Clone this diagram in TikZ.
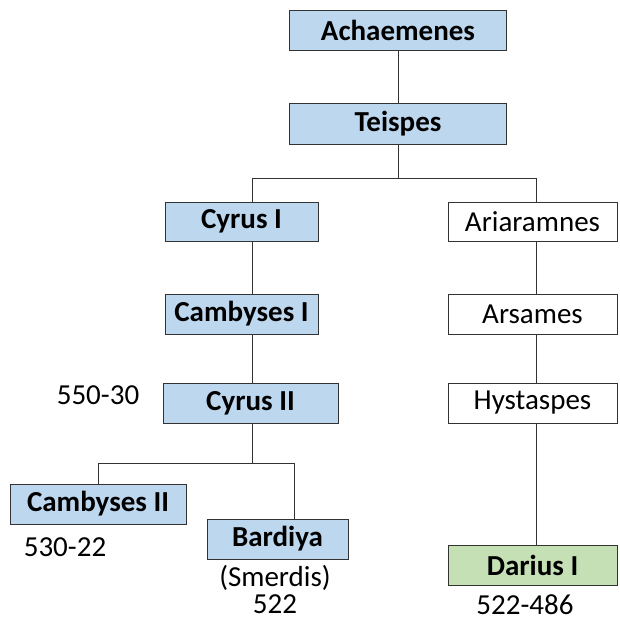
\documentclass[tikz,border=0pt]{standalone}
\usepackage{fontspec}
\setmainfont{Carlito}
\definecolor{boxblue}{HTML}{BDD7EE}
\definecolor{boxgreen}{HTML}{C5E0B4}
\definecolor{linegray}{HTML}{333333}
\begin{document}
\begin{tikzpicture}[x=1pt,y=-1pt,
  every node/.style={inner sep=0pt,outer sep=0pt,font=\fontsize{29}{35}\selectfont},
  pbox/.style={draw=linegray,line width=1pt,rectangle,anchor=center},
  royal/.style={pbox,fill=boxblue,font=\fontsize{29}{35}\selectfont\bfseries},
  greenbox/.style={pbox,fill=boxgreen,font=\fontsize{29}{35}\selectfont\bfseries},
  plain/.style={pbox,fill=white},
  conn/.style={draw=linegray,line width=1pt},
  datelabel/.style={text=black}]
\useasboundingbox (0,0) rectangle (619,624);
\fill[white] (0,0) rectangle (619,624);
% nodes
\node[royal,minimum width=217pt,minimum height=40pt] (ach) at (398,30) {Achaemenes};
\node[royal,minimum width=217pt,minimum height=41pt] (teis) at (398,123.5) {Teispes};
\node[royal,minimum width=153pt,minimum height=39pt] (cyrus1) at (241.5,221.5) {Cyrus I};
\node[plain,minimum width=169pt,minimum height=39pt] (ariar) at (532.5,221.5) {Ariaramnes};
\node[royal,minimum width=153pt,minimum height=40pt] (camb1) at (241.5,314) {Cambyses I};
\node[plain,minimum width=169pt,minimum height=40pt] (arsames) at (532.5,314) {Arsames};
\node[royal,minimum width=175pt,minimum height=40pt] (cyrus2) at (250.5,403) {Cyrus II};
\node[plain,minimum width=169pt,minimum height=40pt] (hyst) at (532.5,403) {Hystaspes};
\node[royal,minimum width=176pt,minimum height=40pt] (camb2) at (98,504) {Cambyses II};
\node[royal,minimum width=141pt,minimum height=40pt] (bardiya) at (277.5,539) {Bardiya};
\node[greenbox,minimum width=169pt,minimum height=40pt] (darius) at (532.5,565) {Darius I};
% labels
\node[datelabel] (l1) at (98,395) {550-30};
\node[datelabel] (l2) at (65,547) {530-22};
\node[datelabel] (l3) at (275,578) {(Smerdis)};
\node[datelabel] (l4) at (275,604) {522};
\node[datelabel] (l5) at (525,605) {522-486};
% junction coordinates
\coordinate (jl) at (252,178);
\coordinate (jr) at (536,178);
\coordinate (kl) at (98,463);
\coordinate (kr) at (294,463);
% connectors
\draw[conn] (ach.south) -- (teis.north);
\draw[conn] (teis.south) -- (teis.south |- jl);
\draw[conn] (jl) -- (jr);
\draw[conn] (jl) -- (jl |- cyrus1.north);
\draw[conn] (jr) -- (jr |- ariar.north);
\draw[conn] (cyrus1.south -| jl) -- (camb1.north -| jl);
\draw[conn] (camb1.south -| jl) -- (cyrus2.north -| jl);
\draw[conn] (cyrus2.south -| jl) -- (jl |- kl);
\draw[conn] (kl) -- (kr);
\draw[conn] (kl) -- (kl |- camb2.north);
\draw[conn] (kr) -- (kr |- bardiya.north);
\draw[conn] (ariar.south -| jr) -- (arsames.north -| jr);
\draw[conn] (arsames.south -| jr) -- (hyst.north -| jr);
\draw[conn] (hyst.south -| jr) -- (darius.north -| jr);
\end{tikzpicture}
\end{document}
